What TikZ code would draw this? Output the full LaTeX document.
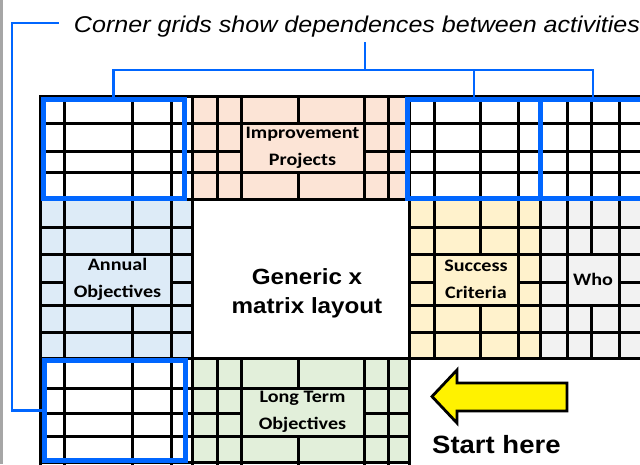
\documentclass[tikz,border=0pt]{standalone}
\usepackage{fontspec}
\setmainfont{Liberation Sans}
\newfontfamily\arialfont[FakeStretch=1.1]{Liberation Sans}
\newfontfamily\calfont[FakeStretch=1.15]{Carlito}
\usepackage{xcolor}
\usetikzlibrary{positioning}

\definecolor{gridblue}{HTML}{0066FF}
\definecolor{pinkfill}{HTML}{FCE4D6}
\definecolor{bluefill}{HTML}{DDEBF7}
\definecolor{yellowfill}{HTML}{FFF2CC}
\definecolor{greenfill}{HTML}{E2EFDA}
\definecolor{grayfill}{HTML}{F2F2F2}
\definecolor{edgegray}{HTML}{A6A6A6}

\tikzset{
	cell/.style={draw=black, line width=3pt, line cap=rect},
	cellname/.style={draw=black, line width=3pt, inner sep=0pt, align=center, font=\calfont\bfseries\fontsize{17.5}{27}\selectfont},
	corner/.style={draw=gridblue, line width=5pt, inner sep=0pt},
	bracket/.style={draw=gridblue, line width=2.2pt}
}

\begin{document}
\begin{tikzpicture}[x=1pt,y=-1pt]
			\useasboundingbox (0,0) rectangle (640,464);
			\clip (0,0) rectangle (640,464);
			\fill[edgegray] (0,0) rectangle (3,464);

			\fill[pinkfill] (192,96) rectangle (409,199);
			\fill[bluefill] (40,199) rectangle (192,358);
			\fill[yellowfill] (409,199) rectangle (540,358);
			\fill[grayfill] (540,199) rectangle (645,358);
			\fill[greenfill] (192,358) rectangle (409,462);

			\foreach \y in {96,123,151,172,199}
				\draw[cell] (40,\y) -- (645,\y);
			\foreach \x in {40,64,132,171,192,217,241,298,364,388,409,434,480,518,540,567,591,619}
				\draw[cell] (\x,96) -- (\x,199);
			\foreach \y in {227,254,282,305,332} {
				\draw[cell] (40,\y) -- (192,\y);
				\draw[cell] (409,\y) -- (645,\y);
			}
			\draw[cell] (40,358) -- (645,358);
			\foreach \x in {40,64,132,171,192,409,434,480,518,540,567,591,619}
				\draw[cell] (\x,199) -- (\x,358);
			\foreach \y in {388,413,436,462}
				\draw[cell] (40,\y) -- (409,\y);
			\foreach \x in {40,64,132,171,192,217,241,298,364,388,409}
				\draw[cell] (\x,358) -- (\x,466);

			\node[cellname, fill=pinkfill, minimum width=123pt, minimum height=49pt] (improve) at (302.5,147.5) {Improvement\\Projects};
			\node[cellname, fill=bluefill, minimum width=107pt, minimum height=51pt] (annual) at (117.5,279.5) {Annual\\Objectives};
			\node[cellname, fill=yellowfill, minimum width=84pt, minimum height=51pt] (success) at (476,279.5) {Success\\Criteria};
			\node[cellname, fill=grayfill, minimum width=52pt, minimum height=51pt] (who) at (593,279.5) {Who};
			\node[cellname, fill=greenfill, minimum width=123pt, minimum height=48pt] (longterm) at (302.5,412) {Long Term\\Objectives};

			\node[corner, minimum width=141pt, minimum height=99.5pt] (cTL) at (113.5,148.75) {};
			\node[corner, minimum width=132.5pt, minimum height=99.5pt] (cTR1) at (473.75,148.75) {};
			\node[corner, minimum width=106pt, minimum height=99.5pt] (cTR2) at (593,148.75) {};
			\node[corner, minimum width=141pt, minimum height=100pt] (cBL) at (114.5,410.5) {};

			\node[anchor=base, inner sep=0pt, outer xsep=15pt, outer ysep=4.5pt, font=\arialfont\itshape\fontsize{22.8}{28}\selectfont] (title) at (357,32.5) {Corner grids show dependences between activities};
			\node[align=center, inner sep=0pt, font=\arialfont\bfseries\fontsize{22}{29}\selectfont] (generic) at (307,293.6) {Generic x\\matrix layout};
			\node[anchor=base west, inner sep=0pt, font=\arialfont\bfseries\fontsize{25}{30}\selectfont] (start) at (432,453) {Start here};

			\draw[line width=2.8pt, fill=yellow, line join=miter] (432,396.5) -- (457,370) -- (457,383) -- (567,383) -- (567,411) -- (457,411) -- (457,423) -- cycle;

			\coordinate (hub) at (365,70);
			\coordinate (elbow) at (12,0);
			\draw[bracket] (hub) -- (hub |- title.south);
			\draw[bracket] (cTL.north) |- (hub) -| (cTR2.north);
			\draw[bracket] (cTR1.north) -- (cTR1.north |- hub);
			\draw[bracket] ([yshift=4pt]title.west) -- ([yshift=4pt]title.west -| elbow) |- (cBL.west);
		\end{tikzpicture}
\end{document}
